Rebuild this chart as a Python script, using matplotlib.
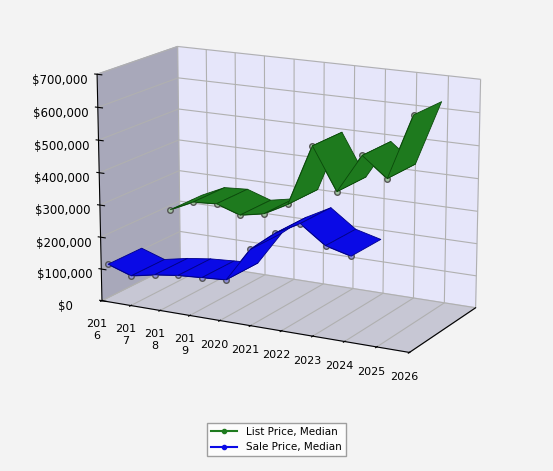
import matplotlib
matplotlib.use("Agg")
import matplotlib.pyplot as plt
import numpy as np
from mpl_toolkits.mplot3d.art3d import Poly3DCollection
from matplotlib.lines import Line2D
from matplotlib.ticker import FuncFormatter

sale_x = [2016.0, 2016.8, 2017.6, 2018.4, 2019.2, 2020.0, 2020.8, 2021.6, 2022.4, 2023.2, 2024.0]
sale_y = [105000, 80000, 95000, 105000, 110000, 115000, 220000, 280000, 320000, 265000, 245000]
list_x = [2016.8, 2017.6, 2018.4, 2019.2, 2020.0, 2020.8, 2021.6, 2022.4, 2023.2, 2024.0, 2024.8]
list_y = [230000, 265000, 270000, 245000, 260000, 300000, 490000, 360000, 480000, 420000, 620000]
years = list(range(2016, 2027))
year_labels = ["201\n6", "201\n7", "201\n8", "201\n9", "2020", "2021", "2022", "2023", "2024", "2025", "2026"]

fig = plt.figure(figsize=(5.53, 4.71), dpi=100)
fig.patch.set_facecolor("#f3f3f3")
ax = fig.add_axes([0.0, 0.12, 1.02, 0.92], projection="3d")
ax.set_facecolor("#f3f3f3")

def ribbon(xs, zs, y0, y1, color, edge, mfc):
    verts = []
    for i in range(len(xs) - 1):
        verts.append([(xs[i], y0, zs[i]), (xs[i+1], y0, zs[i+1]),
                      (xs[i+1], y1, zs[i+1]), (xs[i], y1, zs[i])])
    pc = Poly3DCollection(verts, facecolors=color, edgecolors=edge, linewidths=0.6)
    ax.add_collection3d(pc)
    ax.plot(xs, [y0]*len(xs), zs, color=edge, lw=1, marker="o", ms=4,
            mfc=mfc, mec="#555555")

ribbon(list_x, list_y, 1.4, 2.4, "#1e7a1e", "#0a4a0a", "#9fbf9f")
ribbon(sale_x, sale_y, 0.2, 1.2, "#0a0ae6", "#00008a", "#8f8fd8")

ax.set_xlim(2016, 2026)
ax.set_ylim(0, 2.4)
ax.set_zlim(0, 700000)
ax.set_xticks(years)
ax.set_xticklabels(year_labels, fontsize=8)
ax.set_yticks([])
ax.set_zticks(range(0, 700001, 100000))
ax.zaxis.set_major_formatter(FuncFormatter(lambda v, p: f"${v:,.0f}"))
ax.tick_params(axis="z", labelsize=8.5, pad=8)
ax.zaxis._axinfo["juggled"] = (1, 2, 0)
ax.set_zlabel("Price", fontsize=7, color="#1a4a4a", labelpad=28)
ax.xaxis.set_pane_color((0.66, 0.66, 0.73, 1))
ax.yaxis.set_pane_color((0.90, 0.90, 0.98, 1))
ax.zaxis.set_pane_color((0.78, 0.78, 0.83, 1))
ax.view_init(elev=15, azim=-62)
ax.set_box_aspect((2.2, 1.0, 1.5))

handles = [Line2D([], [], color="#1e7a1e", marker="o", ms=3),
           Line2D([], [], color="#0a0ae6", marker="o", ms=3)]
fig.legend(handles, ["List Price, Median", "Sale Price, Median"], loc="lower center",
           bbox_to_anchor=(0.5, 0.02), fontsize=7.5, frameon=True, fancybox=False,
           edgecolor="#888888", handlelength=2.5)
fig.savefig("out.png", dpi=100, facecolor=fig.get_facecolor())
